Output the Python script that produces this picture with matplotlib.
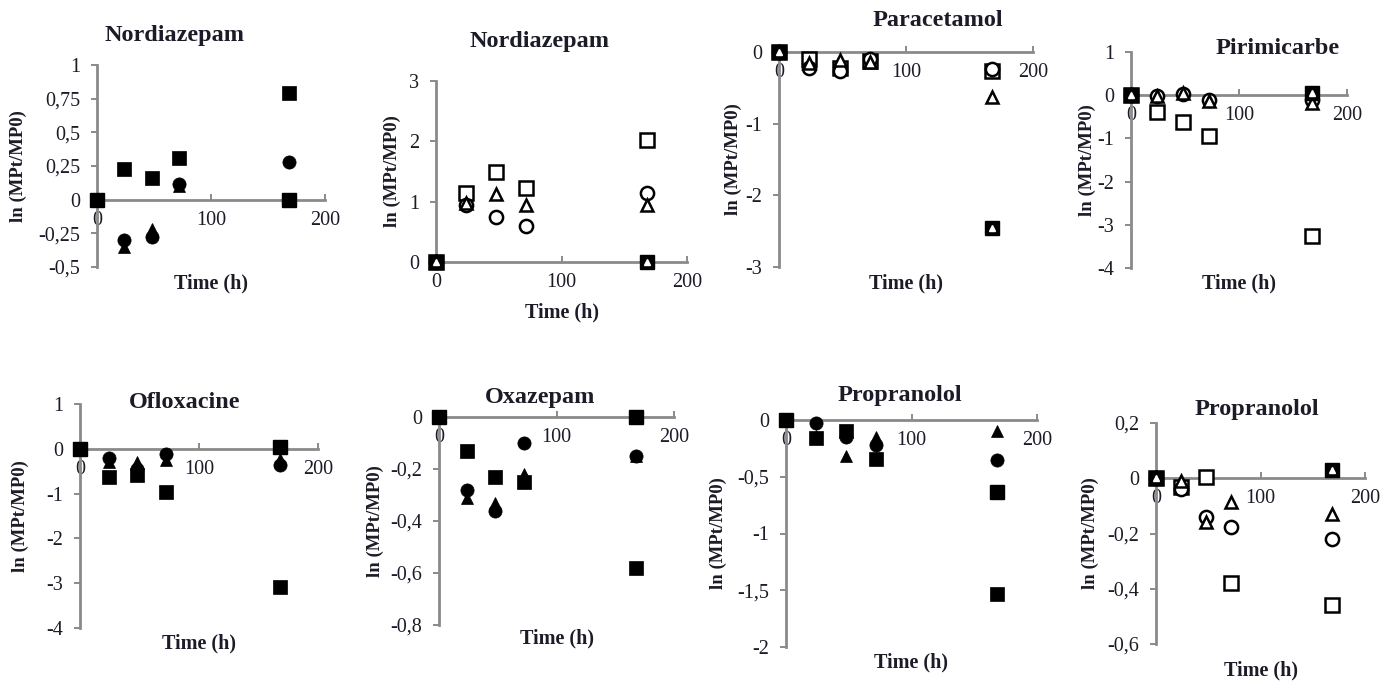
import numpy as np
import matplotlib
matplotlib.use("Agg")
import matplotlib.pyplot as plt
from matplotlib.ticker import FuncFormatter

plt.rcParams["font.family"] = ["Liberation Serif", "DejaVu Serif"]

nan = np.nan
time_h = [0, 24, 48, 72, 168]

# Nordiazepam (filled markers)
nord1_sq = [0, 0.23, 0.16, 0.31, 0.79]
nord1_ci = [0, -0.30, -0.28, 0.12, 0.28]
nord1_tr = [0, -0.35, -0.22, 0.10, 0]
nord1_ctl = [0, nan, nan, nan, 0]

# Nordiazepam (open markers)
nord2_sq = [0, 1.14, 1.50, 1.22, 2.03]
nord2_ci = [0, 0.95, 0.74, 0.60, 1.14]
nord2_tr = [0, 0.97, 1.12, 0.95, 0.95]
nord2_ctl = [0, nan, nan, nan, 0]

# Paracetamol (open)
para_sq = [0, -0.10, -0.22, -0.13, -0.27]
para_ci = [0, -0.22, -0.26, -0.10, -0.24]
para_tr = [0, -0.15, -0.11, -0.14, -0.63]
para_ctl = [0, nan, nan, nan, -2.45]

# Pirimicarbe (open)
piri_sq = [0, -0.38, -0.62, -0.95, -3.25]
piri_ci = [0, -0.03, 0.02, -0.10, -0.10]
piri_tr = [0, -0.02, 0.05, -0.13, -0.18]
piri_ctl = [0, nan, nan, nan, 0.05]

# Ofloxacine (filled)
oflo_sq = [0, -0.62, -0.58, -0.96, -3.08]
oflo_ci = [0, -0.20, -0.45, -0.12, -0.36]
oflo_tr = [0, -0.30, -0.29, -0.25, -0.22]
oflo_ctl = [0, nan, nan, nan, 0.05]

# Oxazepam (filled)
oxa_sq = [0, -0.13, -0.23, -0.25, -0.58]
oxa_ci = [0, -0.28, -0.36, -0.10, -0.15]
oxa_tr = [0, -0.31, -0.33, -0.22, -0.15]
oxa_ctl = [0, nan, nan, nan, 0]

# Propranolol (filled)
prop1_sq = [0, -0.16, -0.10, -0.34, -1.53]
prop1_ci = [0, -0.03, -0.15, -0.22, -0.35]
prop1_tr = [0, -0.14, -0.32, -0.15, -0.10]
prop1_ctl = [0, nan, nan, nan, -0.63]

# Propranolol (open)
prop2_sq = [0, -0.03, 0.005, -0.38, -0.46]
prop2_ci = [0, -0.04, -0.14, -0.175, -0.22]
prop2_tr = [0, -0.01, -0.16, -0.085, -0.13]
prop2_ctl = [0, nan, nan, nan, 0.03]

W, H = 1397, 686

# pixel boxes: x0, x1 (0..200 h), y_top (ymax), y_bottom (ymin)
panels = [
    dict(title="Nordiazepam", data=(nord1_sq, nord1_ci, nord1_tr, nord1_ctl), open=False,
         box=(97, 325, 65, 267), ylim=(-0.5, 1), yticks=[-0.5, -0.25, 0, 0.25, 0.5, 0.75, 1],
         tpos=(175, 35), ylab=79, xlab=16),
    dict(title="Nordiazepam", data=(nord2_sq, nord2_ci, nord2_tr, nord2_ctl), open=True,
         box=(436, 687, 81, 262), ylim=(0, 3), yticks=[0, 1, 2, 3],
         tpos=(540, 42), ylab=44, xlab=50),
    dict(title="Paracetamol", data=(para_sq, para_ci, para_tr, para_ctl), open=True,
         box=(779, 1033, 52, 267), ylim=(-3, 0), yticks=[-3, -2, -1, 0],
         tpos=(938, 20), ylab=46, xlab=16),
    dict(title="Pirimicarbe", data=(piri_sq, piri_ci, piri_tr, piri_ctl), open=True,
         box=(1131, 1347, 52, 268), ylim=(-4, 1), yticks=[-4, -3, -2, -1, 0, 1],
         tpos=(1278, 48), ylab=44, xlab=15),
    dict(title="Ofloxacine", data=(oflo_sq, oflo_ci, oflo_tr, oflo_ctl), open=False,
         box=(80, 318, 404, 628), ylim=(-4, 1), yticks=[-4, -3, -2, -1, 0, 1],
         tpos=(185, 403), ylab=60, xlab=15),
    dict(title="Oxazepam", data=(oxa_sq, oxa_ci, oxa_tr, oxa_ctl), open=False,
         box=(439, 674, 417, 625), ylim=(-0.8, 0), yticks=[-0.8, -0.6, -0.4, -0.2, 0],
         tpos=(540, 397), ylab=64, xlab=13),
    dict(title="Propranolol", data=(prop1_sq, prop1_ci, prop1_tr, prop1_ctl), open=False,
         box=(786, 1037, 420, 647), ylim=(-2, 0), yticks=[-2, -1.5, -1, -0.5, 0],
         tpos=(900, 395), ylab=68, xlab=15),
    dict(title="Propranolol", data=(prop2_sq, prop2_ci, prop2_tr, prop2_ctl), open=True,
         box=(1156, 1365, 423, 644), ylim=(-0.6, 0.2), yticks=[-0.6, -0.4, -0.2, 0, 0.2],
         tpos=(1257, 410), ylab=66, xlab=26),
]

axis_grey = "#8a8a8a"
txt = "#1c1c28"
comma = FuncFormatter(lambda v, p: ("%g" % v).replace(".", ","))

fig = plt.figure(figsize=(W / 100, H / 100), dpi=100)

for p in panels:
    x0, x1, yt, yb = p["box"]
    ax = fig.add_axes([x0 / W, 1 - yb / H, (x1 - x0) / W, (yb - yt) / H])
    ax.set_xlim(0, 200)
    ax.set_ylim(*p["ylim"])
    ax.patch.set_visible(False)

    for s in ["top", "right"]:
        ax.spines[s].set_visible(False)
    ax.spines["bottom"].set_position(("data", 0))
    for s in ["left", "bottom"]:
        ax.spines[s].set_color(axis_grey)
        ax.spines[s].set_linewidth(2)

    ax.set_xticks([0, 100, 200])
    ax.set_yticks(p["yticks"])
    ax.yaxis.set_major_formatter(comma)
    ax.tick_params(axis="x", direction="in", length=4, width=1.4, color=axis_grey,
                   pad=8, labelsize=14.5, labelcolor=txt)
    ax.tick_params(axis="y", direction="out", length=4, width=1.4, color=axis_grey,
                   pad=8, labelsize=14.5, labelcolor=txt)

    sq, ci, tr, ctl = p["data"]
    if p["open"]:
        kw = dict(mfc="white", mec="black", mew=1.8)
    else:
        kw = dict(mfc="black", mec="black", mew=0.5)
    ax.plot(time_h, sq, "s", ms=10.5, ls="none", clip_on=False, zorder=3, **kw)
    ax.plot(time_h, ci, "o", ms=9.5, ls="none", clip_on=False, zorder=3, **kw)
    ax.plot(time_h, tr, "^", ms=9, ls="none", clip_on=False, zorder=3, **kw)
    ax.plot(time_h, ctl, "s", ms=10.5, ls="none", color="black", clip_on=False, zorder=4)
    if p["open"]:
        ax.plot(time_h, ctl, "^", ms=4.5, ls="none", mfc="white", mec="white",
                clip_on=False, zorder=5)

    h = yb - yt
    w = x1 - x0
    ax.set_ylabel("ln (MPt/MP0)", fontsize=13.5, fontweight="bold", color=txt)
    ax.yaxis.set_label_coords(-p["ylab"] / w, 0.5)
    ax.yaxis.label.set_va("center")
    ax.set_xlabel("Time (h)", fontsize=14.5, fontweight="bold", color=txt, va="center")
    ax.xaxis.set_label_coords(0.5, -p["xlab"] / h)

    tx, ty = p["tpos"]
    fig.text(tx / W, 1 - ty / H, p["title"], ha="center", va="center",
             fontsize=17.5, fontweight="bold", color=txt)

fig.savefig("out.png", dpi=100)
